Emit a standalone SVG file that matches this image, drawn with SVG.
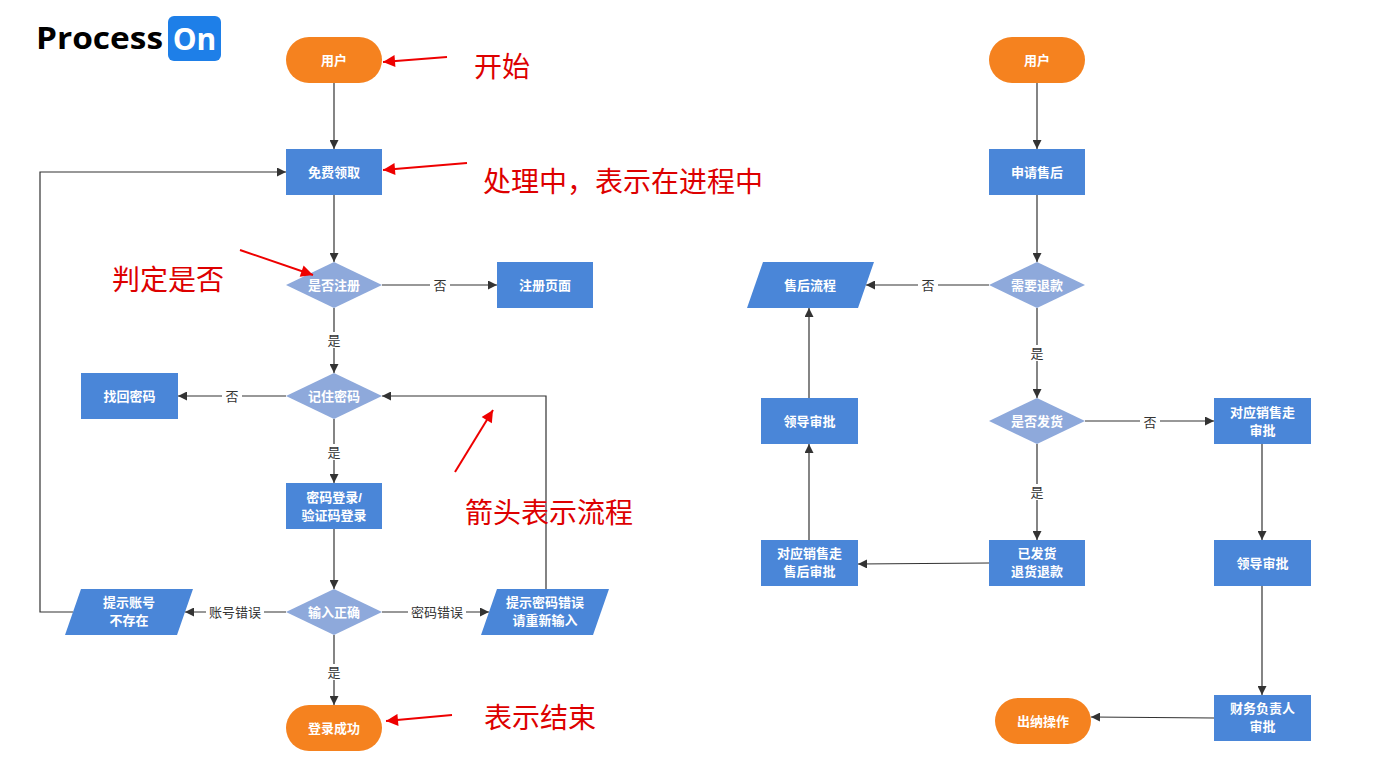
<svg xmlns="http://www.w3.org/2000/svg" width="1378" height="766" viewBox="0 0 1378 766">
<style>
.t{fill:#4A86D8}.o{fill:#F5821F}.d{fill:#8EA9DB}
.n{font-family:"Liberation Sans","Noto Sans CJK SC",sans-serif;font-size:13px;fill:#fff;text-anchor:middle;font-weight:bold}
.l{font-family:"Liberation Sans","Noto Sans CJK SC",sans-serif;font-size:13px;fill:#333;text-anchor:middle}
.c{fill:none;stroke:#333;stroke-width:1.2}
.r{fill:none;stroke:#E00;stroke-width:2}
.a{font-family:"Liberation Serif","Noto Sans CJK SC",serif;font-size:28px;fill:#D00}
</style>
<defs>
<marker id="m" viewBox="0 0 10 10" refX="10" refY="5" markerWidth="9" markerHeight="9" orient="auto" markerUnits="userSpaceOnUse"><path d="M0,0L10,5L0,10z" fill="#333"/></marker>
<marker id="mr" viewBox="0 0 10 10" refX="10" refY="5" markerWidth="14" markerHeight="12" orient="auto" markerUnits="userSpaceOnUse"><path d="M0,0L10,5L0,10z" fill="#E00"/></marker>
</defs>
<rect width="1378" height="766" fill="#fff"/>
<g id="logo"><text x="36" y="49" font-family="Open Sans,Liberation Sans,sans-serif" font-weight="bold" font-size="30" textLength="127" lengthAdjust="spacingAndGlyphs">Process</text><rect x="168" y="16" width="53" height="45" rx="6" fill="#1E7FE8"/><text x="194.5" y="50" text-anchor="middle" font-family="Open Sans,Liberation Sans,sans-serif" font-weight="bold" font-size="30" fill="#fff">On</text></g>
<g id="connectors">
<path class="c" marker-end="url(#m)" d="M334,83V149"/>
<path class="c" marker-end="url(#m)" d="M334,195V262"/>
<path class="c" marker-end="url(#m)" d="M382,285H497"/>
<path class="c" marker-end="url(#m)" d="M334,308V373"/>
<path class="c" marker-end="url(#m)" d="M286,396H178"/>
<path class="c" marker-end="url(#m)" d="M334,419V483"/>
<path class="c" marker-end="url(#m)" d="M334,529V589"/>
<path class="c" marker-end="url(#m)" d="M286,612H185"/>
<path class="c" marker-end="url(#m)" d="M382,612H489"/>
<path class="c" marker-end="url(#m)" d="M334,635V705"/>
<path class="c" marker-end="url(#m)" d="M73,612H40V172H286"/>
<path class="c" marker-end="url(#m)" d="M546,589V396H382"/>
<path class="c" marker-end="url(#m)" d="M1037,83V149"/>
<path class="c" marker-end="url(#m)" d="M1037,195V262"/>
<path class="c" marker-end="url(#m)" d="M989,285H866"/>
<path class="c" marker-end="url(#m)" d="M1037,308V398"/>
<path class="c" marker-end="url(#m)" d="M1085,421H1214"/>
<path class="c" marker-end="url(#m)" d="M1037,444V540"/>
<path class="c" marker-end="url(#m)" d="M989,563L858,564"/>
<path class="c" marker-end="url(#m)" d="M809,540V444"/>
<path class="c" marker-end="url(#m)" d="M809,398V308"/>
<path class="c" marker-end="url(#m)" d="M1262,444V540"/>
<path class="c" marker-end="url(#m)" d="M1262,586V695"/>
<path class="c" marker-end="url(#m)" d="M1214,718L1091,717"/>
<g>
<rect x="430" y="277" width="20" height="16" fill="#fff"/><text class="l" x="440" y="290">否</text>
<rect x="324" y="332" width="20" height="16" fill="#fff"/><text class="l" x="334" y="345">是</text>
<rect x="222" y="388" width="20" height="16" fill="#fff"/><text class="l" x="232" y="401">否</text>
<rect x="324" y="444" width="20" height="16" fill="#fff"/><text class="l" x="334" y="457">是</text>
<rect x="206" y="604" width="58" height="16" fill="#fff"/><text class="l" x="235" y="617">账号错误</text>
<rect x="408" y="604" width="58" height="16" fill="#fff"/><text class="l" x="437" y="617">密码错误</text>
<rect x="324" y="664" width="20" height="16" fill="#fff"/><text class="l" x="334" y="677">是</text>
<rect x="918" y="277" width="20" height="16" fill="#fff"/><text class="l" x="928" y="290">否</text>
<rect x="1027" y="345" width="20" height="16" fill="#fff"/><text class="l" x="1037" y="358">是</text>
<rect x="1140" y="414" width="20" height="16" fill="#fff"/><text class="l" x="1150" y="427">否</text>
<rect x="1027" y="484" width="20" height="16" fill="#fff"/><text class="l" x="1037" y="497">是</text>
</g>
</g>
<g id="n1"><rect class="o" x="286" y="37" width="96" height="46" rx="23"/><text class="n" x="334" y="65">用户</text></g>
<g id="n2"><rect class="t" x="286" y="149" width="96" height="46"/><text class="n" x="334" y="177">免费领取</text></g>
<g id="n3"><path class="d" d="M334,262L382,285L334,308L286,285z"/><text class="n" x="334" y="290">是否注册</text></g>
<g id="n4"><rect class="t" x="497" y="262" width="96" height="46"/><text class="n" x="545" y="290">注册页面</text></g>
<g id="n5"><path class="d" d="M334,373L382,396L334,419L286,396z"/><text class="n" x="334" y="401">记住密码</text></g>
<g id="n6"><rect class="t" x="81" y="373" width="97" height="46"/><text class="n" x="129.5" y="401">找回密码</text></g>
<g id="n7"><rect class="t" x="286" y="483" width="96" height="46"/><text class="n" x="334" y="502">密码登录/</text><text class="n" x="334" y="520">验证码登录</text></g>
<g id="n8"><path class="d" d="M334,589L382,612L334,635L286,612z"/><text class="n" x="334" y="617">输入正确</text></g>
<g id="n9"><path class="t" d="M81,589H193L177,635H65z"/><text class="n" x="129" y="607">提示账号</text><text class="n" x="129" y="625">不存在</text></g>
<g id="n10"><path class="t" d="M497,589H609L593,635H481z"/><text class="n" x="545" y="607">提示密码错误</text><text class="n" x="545" y="625">请重新输入</text></g>
<g id="n11"><rect class="o" x="286" y="705" width="96" height="46" rx="23"/><text class="n" x="334" y="733">登录成功</text></g>
<g id="r1"><rect class="o" x="989" y="37" width="96" height="46" rx="23"/><text class="n" x="1037" y="65">用户</text></g>
<g id="r2"><rect class="t" x="989" y="149" width="96" height="46"/><text class="n" x="1037" y="177">申请售后</text></g>
<g id="r3"><path class="d" d="M1037,262L1085,285L1037,308L989,285z"/><text class="n" x="1037" y="290">需要退款</text></g>
<g id="r4"><path class="t" d="M763,262H874L858,308H747z"/><text class="n" x="810" y="290">售后流程</text></g>
<g id="r5"><path class="d" d="M1037,398L1085,421L1037,444L989,421z"/><text class="n" x="1037" y="426">是否发货</text></g>
<g id="r6"><rect class="t" x="1214" y="398" width="97" height="46"/><text class="n" x="1262.5" y="417">对应销售走</text><text class="n" x="1262.5" y="435">审批</text></g>
<g id="r7"><rect class="t" x="989" y="540" width="96" height="46"/><text class="n" x="1037" y="558">已发货</text><text class="n" x="1037" y="576">退货退款</text></g>
<g id="r8"><rect class="t" x="761" y="540" width="97" height="46"/><text class="n" x="809.5" y="558">对应销售走</text><text class="n" x="809.5" y="576">售后审批</text></g>
<g id="r9"><rect class="t" x="761" y="398" width="97" height="46"/><text class="n" x="809.5" y="426">领导审批</text></g>
<g id="r10"><rect class="t" x="1214" y="540" width="97" height="46"/><text class="n" x="1262.5" y="568">领导审批</text></g>
<g id="r11"><rect class="t" x="1214" y="695" width="97" height="46"/><text class="n" x="1262.5" y="713">财务负责人</text><text class="n" x="1262.5" y="731">审批</text></g>
<g id="r12"><rect class="o" x="995" y="698" width="96" height="46" rx="23"/><text class="n" x="1043" y="726">出纳操作</text></g>
<g id="annotations">
<path class="r" marker-end="url(#mr)" d="M447,57L383,62"/><text class="a" x="474" y="77">开始</text>
<path class="r" marker-end="url(#mr)" d="M467,163L383,170"/><text class="a" x="483" y="192">处理中，表示在进程中</text>
<path class="r" marker-end="url(#mr)" d="M240,250L313,275"/><text class="a" x="112" y="290">判定是否</text>
<path class="r" marker-end="url(#mr)" d="M455,472L493,410"/><text class="a" x="465" y="523">箭头表示流程</text>
<path class="r" marker-end="url(#mr)" d="M452,715L386,721"/><text class="a" x="484" y="728">表示结束</text>
</g>
</svg>
